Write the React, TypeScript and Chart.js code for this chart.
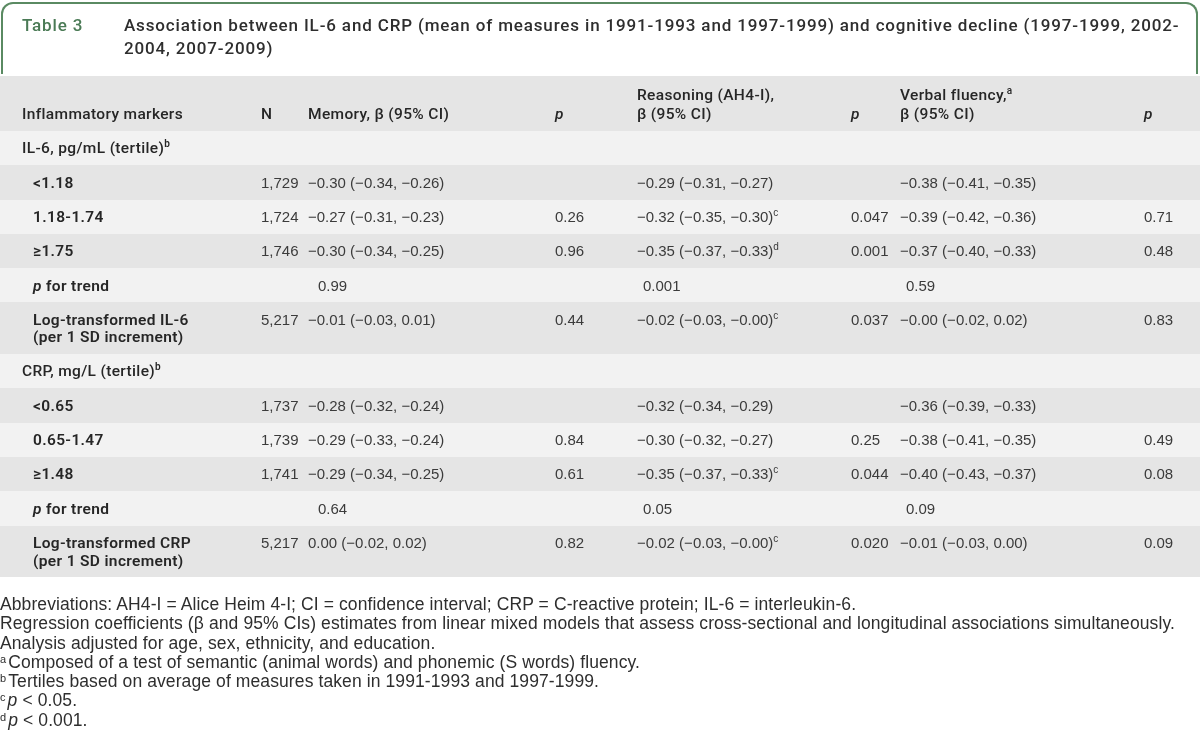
import React, { useEffect, useRef } from "react";
import { Chart, registerables } from "chart.js";

Chart.register(...registerables);

// ---------- data ----------
const tableTitle = "Table 3";
const titleLines = [
  "Association between IL-6 and CRP (mean of measures in 1991-1993 and 1997-1999) and cognitive decline (1997-1999, 2002-",
  "2004, 2007-2009)",
];

const headerLines: string[][] = [
  ["Inflammatory markers"],
  ["N"],
  ["Memory, \u03b2 (95% CI)"],
  ["p"],
  ["Reasoning (AH4-I),", "\u03b2 (95% CI)"],
  ["p"],
  ["Verbal fluency,", "\u03b2 (95% CI)"],
  ["p"],
];
const headerSup = ["", "", "", "", "", "", "a", ""];

const rowLabels = [
  "IL-6, pg/mL (tertile)",
  "<1.18",
  "1.18-1.74",
  "\u22651.75",
  "p for trend",
  "Log-transformed IL-6\n(per 1 SD increment)",
  "CRP, mg/L (tertile)",
  "<0.65",
  "0.65-1.47",
  "\u22651.48",
  "p for trend",
  "Log-transformed CRP\n(per 1 SD increment)",
];
const rowKinds = ["group", "level", "level", "level", "trend", "log", "group", "level", "level", "level", "trend", "log"];
const rowLabelSup = ["b", "", "", "", "", "", "b", "", "", "", "", ""];

const nValues = ["", "1,729", "1,724", "1,746", "", "5,217", "", "1,737", "1,739", "1,741", "", "5,217"];

const memoryBeta = [
  "", "\u22120.30 (\u22120.34, \u22120.26)", "\u22120.27 (\u22120.31, \u22120.23)", "\u22120.30 (\u22120.34, \u22120.25)", "0.99",
  "\u22120.01 (\u22120.03, 0.01)", "", "\u22120.28 (\u22120.32, \u22120.24)", "\u22120.29 (\u22120.33, \u22120.24)",
  "\u22120.29 (\u22120.34, \u22120.25)", "0.64", "0.00 (\u22120.02, 0.02)",
];
const memorySup = ["", "", "", "", "", "", "", "", "", "", "", ""];
const memoryP = ["", "", "0.26", "0.96", "", "0.44", "", "", "0.84", "0.61", "", "0.82"];

const reasoningBeta = [
  "", "\u22120.29 (\u22120.31, \u22120.27)", "\u22120.32 (\u22120.35, \u22120.30)", "\u22120.35 (\u22120.37, \u22120.33)", "0.001",
  "\u22120.02 (\u22120.03, \u22120.00)", "", "\u22120.32 (\u22120.34, \u22120.29)", "\u22120.30 (\u22120.32, \u22120.27)",
  "\u22120.35 (\u22120.37, \u22120.33)", "0.05", "\u22120.02 (\u22120.03, \u22120.00)",
];
const reasoningSup = ["", "", "c", "d", "", "c", "", "", "", "c", "", "c"];
const reasoningP = ["", "", "0.047", "0.001", "", "0.037", "", "", "0.25", "0.044", "", "0.020"];

const verbalBeta = [
  "", "\u22120.38 (\u22120.41, \u22120.35)", "\u22120.39 (\u22120.42, \u22120.36)", "\u22120.37 (\u22120.40, \u22120.33)", "0.59",
  "\u22120.00 (\u22120.02, 0.02)", "", "\u22120.36 (\u22120.39, \u22120.33)", "\u22120.38 (\u22120.41, \u22120.35)",
  "\u22120.40 (\u22120.43, \u22120.37)", "0.09", "\u22120.01 (\u22120.03, 0.00)",
];
const verbalSup = ["", "", "", "", "", "", "", "", "", "", "", ""];
const verbalP = ["", "", "0.71", "0.48", "", "0.83", "", "", "0.49", "0.08", "", "0.09"];

const footnotes: { sup: string; italicP: boolean; text: string }[] = [
  { sup: "", italicP: false, text: "Abbreviations: AH4-I = Alice Heim 4-I; CI = confidence interval; CRP = C-reactive protein; IL-6 = interleukin-6." },
  { sup: "", italicP: false, text: "Regression coefficients (\u03b2 and 95% CIs) estimates from linear mixed models that assess cross-sectional and longitudinal associations simultaneously." },
  { sup: "", italicP: false, text: "Analysis adjusted for age, sex, ethnicity, and education." },
  { sup: "a", italicP: false, text: "Composed of a test of semantic (animal words) and phonemic (S words) fluency." },
  { sup: "b", italicP: false, text: "Tertiles based on average of measures taken in 1991-1993 and 1997-1999." },
  { sup: "c", italicP: true, text: " < 0.05." },
  { sup: "d", italicP: true, text: " < 0.001." },
];

// ---------- layout / style ----------
const colX = [22, 261, 308, 555, 637, 851, 900, 1144];
const indentX = 11;
const trendOffset = [0, 0, 10, 0, 6, 0, 6, 0];
const HEADER_UNITS = 3.2;
const unitsFor = (label: string) => (label.includes("\n") ? 3 : 2);
const DARK = "#e5e5e5";
const LIGHT = "#f2f2f2";
const LABEL_COLOR = "#262626";
const VALUE_COLOR = "#3b3b3b";
const LABEL_FAMILY = 'Roboto, "Liberation Sans", Arial, sans-serif';
const VALUE_FAMILY = '"Liberation Sans", Arial, sans-serif';
const LABEL_SPACING = "0.35px";

const lblFont = (weight: number, size = 15.5, italic = false) =>
  `${italic ? "italic " : ""}${weight} ${size}px ${LABEL_FAMILY}`;
const valFont = (size = 15) => `400 ${size}px ${VALUE_FAMILY}`;

type Seg = { t: string; font: string; sup?: boolean; spacing?: string };

function drawSegs(ctx: CanvasRenderingContext2D, x: number, baseline: number, segs: Seg[], color: string) {
  let cx = x;
  ctx.fillStyle = color;
  ctx.textBaseline = "alphabetic";
  ctx.textAlign = "left";
  for (const s of segs) {
    ctx.font = s.font;
    (ctx as any).letterSpacing = s.spacing || "0px";
    const dy = s.sup ? -6 : 0;
    ctx.fillText(s.t, cx, baseline + dy);
    cx += ctx.measureText(s.t).width + (s.sup ? 1 : 0);
  }
  (ctx as any).letterSpacing = "0px";
}

const totalUnits = HEADER_UNITS + rowLabels.reduce((a, l) => a + unitsFor(l), 0);

const tablePlugin = {
  id: "tableCells",
  beforeDatasetsDraw(chart: any) {
    const { ctx, scales } = chart;
    const xs = scales.x;
    const ys = scales.y;
    const left = Math.round(xs.getPixelForValue(0));
    const right = Math.round(xs.getPixelForValue(1200));
    const bands: [number, number][] = [[0, HEADER_UNITS]];
    let u = HEADER_UNITS;
    for (const l of rowLabels) {
      bands.push([u, u + unitsFor(l)]);
      u += unitsFor(l);
    }
    ctx.save();
    bands.forEach(([a, b], i) => {
      const top = Math.round(ys.getPixelForValue(a));
      const bot = Math.round(ys.getPixelForValue(b));
      ctx.fillStyle = i % 2 === 0 ? DARK : LIGHT;
      ctx.fillRect(left, top, right - left, bot - top);
    });
    ctx.restore();
  },
  afterDatasetsDraw(chart: any) {
    const { ctx, scales } = chart;
    const xs = scales.x;
    const ys = scales.y;
    ctx.save();
    // header
    const hBottom = ys.getPixelForValue(HEADER_UNITS);
    headerLines.forEach((lines, c) => {
      const x = xs.getPixelForValue(colX[c]);
      const italic = lines[0] === "p";
      lines.forEach((line, li) => {
        const baseline = hBottom - 12 - (lines.length - 1 - li) * 19;
        const segs: Seg[] = [{ t: line, font: lblFont(500, 15.5, italic), spacing: LABEL_SPACING }];
        if (li === 0 && headerSup[c]) segs.push({ t: headerSup[c], font: lblFont(500, 10), sup: true });
        drawSegs(ctx, x, baseline, segs, LABEL_COLOR);
      });
    });
    // body
    let u = HEADER_UNITS;
    rowLabels.forEach((label, r) => {
      const top = ys.getPixelForValue(u);
      u += unitsFor(label);
      const kind = rowKinds[r];
      const base = top + 22.5;
      const lx = xs.getPixelForValue(colX[0] + (kind === "group" ? 0 : indentX));
      const lines = label.split("\n");
      lines.forEach((line, li) => {
        let segs: Seg[];
        if (kind === "trend") {
          segs = [
            { t: "p", font: lblFont(600, 15.5, true), spacing: LABEL_SPACING },
            { t: line.slice(1), font: lblFont(600), spacing: LABEL_SPACING },
          ];
        } else {
          segs = [{ t: line, font: lblFont(kind === "group" ? 500 : 600), spacing: LABEL_SPACING }];
        }
        if (li === 0 && rowLabelSup[r]) segs.push({ t: rowLabelSup[r], font: lblFont(600, 10), sup: true });
        drawSegs(ctx, lx, base + li * 17.5, segs, LABEL_COLOR);
      });
      const cells: [number, string, string][] = [
        [1, nValues[r], ""],
        [2, memoryBeta[r], memorySup[r]],
        [3, memoryP[r], ""],
        [4, reasoningBeta[r], reasoningSup[r]],
        [5, reasoningP[r], ""],
        [6, verbalBeta[r], verbalSup[r]],
        [7, verbalP[r], ""],
      ];
      cells.forEach(([c, txt, sup]) => {
        if (!txt) return;
        const off = kind === "trend" ? trendOffset[c] : 0;
        const x = xs.getPixelForValue(colX[c] + off);
        const segs: Seg[] = [{ t: txt, font: valFont() }];
        if (sup) segs.push({ t: sup, font: valFont(10), sup: true });
        drawSegs(ctx, x, base, segs, VALUE_COLOR);
      });
    });
    ctx.restore();
  },
};

export default function App() {
  const canvasRef = useRef<HTMLCanvasElement | null>(null);

  useEffect(() => {
    document.body.style.margin = "0";
    const canvas = canvasRef.current;
    if (!canvas) return;
    const chart = new Chart(canvas, {
      type: "scatter",
      data: { datasets: [] },
      options: {
        animation: false,
        responsive: false,
        maintainAspectRatio: false,
        devicePixelRatio: 1,
        layout: { padding: { top: 76, bottom: 175, left: 0, right: 0 } },
        scales: {
          x: { type: "linear", min: 0, max: 1200, display: false },
          y: { type: "linear", min: 0, max: totalUnits, reverse: true, display: false },
        },
        plugins: { legend: { display: false }, tooltip: { enabled: false }, title: { display: false } },
      },
      plugins: [tablePlugin as any],
    });
    return () => chart.destroy();
  }, []);

  return (
    <div style={{ position: "absolute", left: 0, top: 0, width: 1200, height: 752, background: "#ffffff", overflow: "hidden" }}>
      <canvas ref={canvasRef} width={1200} height={752} style={{ position: "absolute", left: 0, top: 0 }} />
      <div
        style={{
          position: "absolute",
          left: 1,
          top: 2,
          width: 1197,
          height: 72,
          border: "2px solid #5a8a62",
          borderBottom: "none",
          borderRadius: "12px 12px 0 0",
          boxSizing: "border-box",
        }}
      />
      <div
        style={{
          position: "absolute",
          left: 22,
          top: 14,
          font: `500 17px ${LABEL_FAMILY}`,
          letterSpacing: "0.85px",
          lineHeight: "23px",
          color: "#4a7a55",
        }}
      >
        {tableTitle}
      </div>
      <div
        style={{
          position: "absolute",
          left: 124,
          top: 14,
          width: 1070,
          font: `500 17px ${LABEL_FAMILY}`,
          letterSpacing: "0.85px",
          lineHeight: "23px",
          color: "#2e2e2e",
          whiteSpace: "nowrap",
        }}
      >
        {titleLines.map((l, i) => (
          <div key={i}>{l}</div>
        ))}
      </div>
      <div
        style={{
          position: "absolute",
          left: 0,
          top: 595,
          font: `400 17.5px ${VALUE_FAMILY}`,
          letterSpacing: "0.1px",
          lineHeight: "19.3px",
          color: "#2e2e2e",
          whiteSpace: "nowrap",
        }}
      >
        {footnotes.map((f, i) => (
          <div key={i}>
            {f.sup ? (
              <sup style={{ fontSize: 11, verticalAlign: "5px", lineHeight: 0, marginRight: 2 }}>{f.sup}</sup>
            ) : null}
            {f.italicP ? <i>p</i> : null}
            {f.text}
          </div>
        ))}
      </div>
    </div>
  );
}
